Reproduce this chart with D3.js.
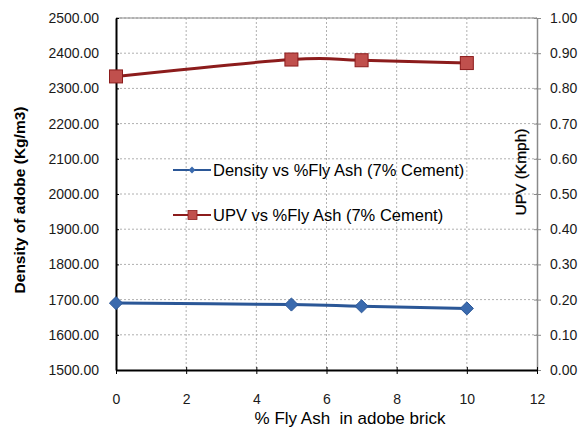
<!DOCTYPE html>
<html><head><meta charset="utf-8">
<script src="https://cdn.jsdelivr.net/npm/d3@7"></script>
<style>body{margin:0;background:#fff}svg{display:block}text{font-family:"Liberation Sans",Arial,sans-serif}</style>
</head><body><svg id="c" width="581" height="431"></svg>
<script>
const flyAsh = [0, 5, 7, 10];
const density = [1690, 1686, 1681, 1675];
const upv = [0.834, 0.882, 0.880, 0.872];
const xTicks = [0, 2, 4, 6, 8, 10, 12];
const leftTicks = [1500,1600,1700,1800,1900,2000,2100,2200,2300,2400,2500];
const rightTicks = [0,0.1,0.2,0.3,0.4,0.5,0.6,0.7,0.8,0.9,1.0];
const legendLabels = ["Density vs %Fly Ash (7% Cement)", "UPV vs %Fly Ash (7% Cement)"];

const svg = d3.select("#c");
const L = 116, R = 537, T = 18, B = 370;
const x = d3.scaleLinear().domain([0, 12]).range([L, R]);
const yL = d3.scaleLinear().domain([1500, 2500]).range([B, T]);
const yR = d3.scaleLinear().domain([0, 1]).range([B, T]);

// gridlines
const g = svg.append("g");
g.selectAll("line.h").data(leftTicks.slice(1)).enter().append("line")
  .attr("x1", L).attr("x2", R).attr("y1", d => yL(d)).attr("y2", d => yL(d))
  .attr("stroke", "#b0b0b0").attr("stroke-width", 1).attr("stroke-dasharray", "2,2");
g.selectAll("line.v").data(xTicks.slice(1, -1)).enter().append("line")
  .attr("y1", T).attr("y2", B).attr("x1", d => x(d)).attr("x2", d => x(d))
  .attr("stroke", "#b0b0b0").attr("stroke-width", 1).attr("stroke-dasharray", "2,2");
svg.append("line").attr("x1", L).attr("x2", R).attr("y1", T).attr("y2", T).attr("stroke", "#8a8a8a");

const fmt2 = d3.format(".2f");
// left axis
const ax = svg.append("g").attr("transform", `translate(${L},0)`)
  .call(d3.axisLeft(yL).tickValues(leftTicks).tickFormat(fmt2).tickSizeInner(4).tickSizeOuter(0));
ax.select(".domain").attr("stroke", "#000").attr("stroke-width", 2);
ax.selectAll(".tick line").attr("stroke", "#000").attr("x2", 3);
ax.selectAll("text").attr("font-size", 14).attr("fill", "#1a1a1a").attr("x", -17);

// right axis
const ar = svg.append("g").attr("transform", `translate(${R},0)`)
  .call(d3.axisRight(yR).tickValues(rightTicks).tickFormat(fmt2).tickSizeInner(4).tickSizeOuter(0));
ar.select(".domain").attr("stroke", "#8a8a8a").attr("stroke-width", 1.5);
ar.selectAll(".tick line").attr("stroke", "#8a8a8a").attr("x1", -3);
ar.selectAll("text").attr("font-size", 14).attr("fill", "#1a1a1a").attr("x", 13);

// bottom axis
const ab = svg.append("g").attr("transform", `translate(0,${B})`)
  .call(d3.axisBottom(x).tickValues(xTicks).tickFormat(d3.format("d")).tickSizeInner(4).tickSizeOuter(0));
ab.select(".domain").attr("stroke", "#000").attr("stroke-width", 2);
ab.selectAll(".tick line").attr("stroke", "#000").attr("y1", -3);
ab.selectAll("text").attr("font-size", 14).attr("fill", "#1a1a1a").attr("y", 24);

// axis titles
svg.append("text").attr("transform", `translate(25,200) rotate(-90)`)
  .attr("text-anchor", "middle").attr("font-size", 15.5).attr("font-weight", "bold").attr("fill", "#000")
  .text("Density of adobe (Kg/m3)");
svg.append("text").attr("transform", `translate(526,172) rotate(-90)`)
  .attr("text-anchor", "middle").attr("font-size", 15.5).attr("fill", "#000")
  .attr("stroke", "#000").attr("stroke-width", 0.3)
  .text("UPV (Kmph)");
svg.append("text").attr("x", 350).attr("y", 424).attr("text-anchor", "middle")
  .attr("font-size", 17).attr("fill", "#000")
  .style("white-space", "pre").text("% Fly Ash  in adobe brick");

// series
const blue = "#2b5797", red = "#8c1c1c";
const dData = flyAsh.map((v, i) => [v, density[i]]);
const uData = flyAsh.map((v, i) => [v, upv[i]]);
svg.append("path").datum(dData).attr("fill", "none").attr("stroke", blue).attr("stroke-width", 3)
  .attr("d", d3.line().x(d => x(d[0])).y(d => yL(d[1])).curve(d3.curveCardinal.tension(0)));
svg.append("path").datum(uData).attr("fill", "none").attr("stroke", red).attr("stroke-width", 3)
  .attr("d", d3.line().x(d => x(d[0])).y(d => yR(d[1])).curve(d3.curveCardinal.tension(0)));

const diamond = d3.symbol().type(d3.symbolDiamond2).size(110);
svg.selectAll("path.dm").data(dData).enter().append("path")
  .attr("transform", d => `translate(${x(d[0])},${yL(d[1])})`)
  .attr("d", diamond).attr("fill", "#3a6aae").attr("stroke", "#2b5797").attr("stroke-width", 1);
svg.selectAll("rect.sq").data(uData).enter().append("rect")
  .attr("x", d => x(d[0]) - 6.5).attr("y", d => yR(d[1]) - 6.5).attr("width", 13).attr("height", 13)
  .attr("fill", "#c0504d").attr("stroke", "#8c1c1c").attr("stroke-width", 1);

// legend
const lg = svg.append("g");
const ly = [170, 215];
const lcol = [blue, red];
legendLabels.forEach((t, i) => {
  lg.append("line").attr("x1", 173).attr("x2", 211).attr("y1", ly[i]).attr("y2", ly[i])
    .attr("stroke", lcol[i]).attr("stroke-width", 2);
  if (i === 0) lg.append("path").attr("transform", `translate(192,${ly[i]})`)
    .attr("d", d3.symbol().type(d3.symbolDiamond2).size(30)).attr("fill", "#3a6aae");
  else lg.append("rect").attr("x", 188).attr("y", ly[i] - 4.5).attr("width", 9).attr("height", 9)
    .attr("fill", "#c0504d").attr("stroke", "#8c1c1c").attr("stroke-width", 0.8);
  lg.append("text").attr("x", 213).attr("y", ly[i] + 6).attr("font-size", 16.5).attr("fill", "#000")
    .text(t);
});
</script></body></html>
